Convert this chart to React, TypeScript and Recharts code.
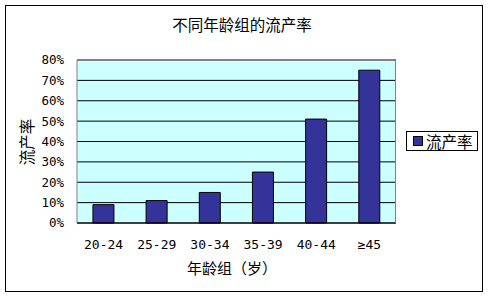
import React from 'react';
import { BarChart, Bar, XAxis, YAxis, CartesianGrid } from 'recharts';

const ageGroups = ['20-24', '25-29', '30-34', '35-39', '40-44', '≥45'];
const abortionRate = [9, 11, 15, 25, 51, 75];
const yTicks = [0, 10, 20, 30, 40, 50, 60, 70, 80];

const data = ageGroups.map((g, i) => ({ group: g, rate: abortionRate[i] }));

const FONT = '"Noto Sans CJK SC", "DejaVu Sans", sans-serif';
const NUM_FONT = '"DejaVu Sans Mono", "Noto Sans CJK SC", monospace';

export default function App() {
  return (
    <div style={{ position: 'absolute', left: 0, top: 0, width: 488, height: 298, background: '#fff', fontFamily: FONT }}>
      <div style={{ position: 'absolute', left: 5, top: 5, width: 476, height: 285, border: '1px solid #000' }} />
      <div style={{ position: 'absolute', left: 0, width: 484, top: 13, textAlign: 'center', fontSize: 15.5, color: '#000' }}>
        不同年龄组的流产率
      </div>
      <BarChart
        width={488}
        height={298}
        data={data}
        margin={{ top: 60, right: 92, bottom: 45, left: 37 }}
        barCategoryGap="30%"
        style={{ position: 'absolute', left: 0, top: 0 }}
      >
        <CartesianGrid vertical={false} stroke="#000" fill="#ccffff" fillOpacity={1} />
        <XAxis
          dataKey="group"
          axisLine={{ stroke: '#000' }}
          tickLine={false}
          tickSize={0}
          tickMargin={17}
          height={30}
          tick={{ fontSize: 13, fill: '#000', fontFamily: NUM_FONT }}
        />
        <YAxis
          domain={[0, 80]}
          ticks={yTicks}
          interval={0}
          tickFormatter={(v) => `${v}%`}
          axisLine={{ stroke: '#808080' }}
          tickLine={false}
          tickSize={0}
          tickMargin={13}
          width={40}
          tick={{ fontSize: 12.5, fill: '#000', fontFamily: NUM_FONT }}
        />
        <Bar dataKey="rate" fill="#333399" stroke="#000" strokeWidth={1} isAnimationActive={false} />
      </BarChart>
      <div style={{ position: 'absolute', left: 77, top: 60, width: 318, height: 162, borderTop: '1px solid #808080', borderRight: '1px solid #808080', pointerEvents: 'none' }} />
      <div style={{ position: 'absolute', left: 26, top: 142, transform: 'translate(-50%, -50%) rotate(-90deg)', fontSize: 15.5, whiteSpace: 'nowrap' }}>
        流产率
      </div>
      <div style={{ position: 'absolute', left: 162, width: 140, top: 257, textAlign: 'center', fontSize: 15, whiteSpace: 'nowrap' }}>
        年龄组（岁）
      </div>
      <div style={{ position: 'absolute', left: 406, top: 131, width: 70, height: 18, border: '1px solid #000', background: '#fff', display: 'flex', alignItems: 'center' }}>
        <span style={{ display: 'inline-block', width: 8, height: 8, background: '#333399', border: '1px solid #000', marginLeft: 6, flexShrink: 0 }} />
        <span style={{ fontSize: 15.5, marginLeft: 3, whiteSpace: 'nowrap', lineHeight: '18px' }}>流产率</span>
      </div>
    </div>
  );
}
